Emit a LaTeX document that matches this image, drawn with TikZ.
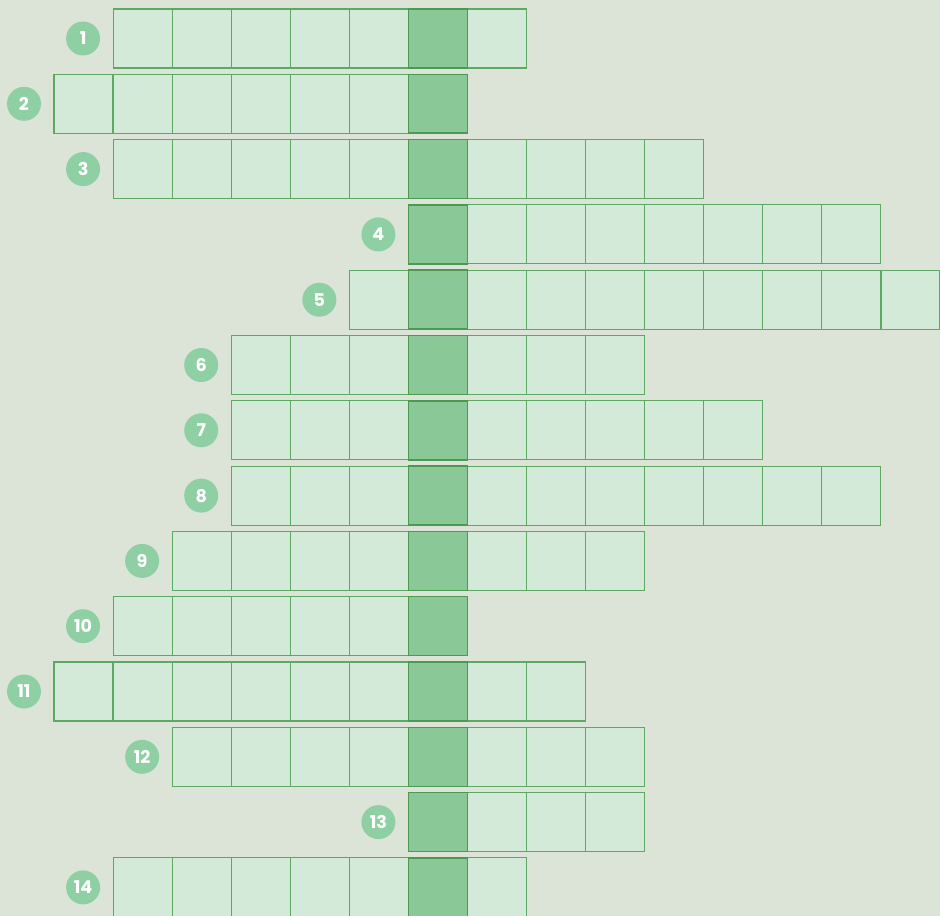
\documentclass[tikz,border=0pt]{standalone}
\usepackage{fontspec}
\setsansfont{Poppins}
\usepackage{tikz}
\definecolor{bgGray}{HTML}{DCE4D8}
\definecolor{cellFill}{HTML}{D4EAD8}
\definecolor{cellLine}{HTML}{5DA862}
\definecolor{hlFill}{HTML}{8AC897}
\definecolor{hlLine}{HTML}{4C9A52}
\definecolor{numFill}{HTML}{8ED0A4}

\begin{document}
\begin{tikzpicture}[
    x=0.02cm, y=-0.02cm,
    cell/.style={rectangle, anchor=north west, minimum width=1.18cm,
                 minimum height=1.18cm, inner sep=0pt, outer sep=0pt,
                 fill=cellFill, draw=cellLine, line width=0.6pt},
    hl/.style={cell, fill=hlFill, draw=hlLine, line width=0.9pt},
    num/.style={circle, fill=numFill, minimum size=0.68cm, inner sep=0pt,
                text=white, font=\sffamily\bfseries\fontsize{10}{12}\selectfont}
  ]
  \useasboundingbox[fill=bgGray] (0,0) rectangle (940,916);
  % row / first column / last column
  \foreach \r/\s/\e in {1/1/7, 2/0/6, 3/1/10, 4/6/13, 5/5/14, 6/3/9, 7/3/11,
                        8/3/13, 9/2/9, 10/1/6, 11/0/8, 12/2/9, 13/6/9, 14/1/7} {
    \pgfmathsetmacro\ty{9+65.3*(\r-1)}
    \foreach \c in {\s,...,\e}
      \node[cell] (c\r-\c) at ({54+59.07*\c}, \ty) {};
    \node[hl] (h\r) at ({54+59.07*6}, \ty) {};
    \node[num] (n\r) at ({54+59.07*\s-30}, {\ty+29.5}) {\r};
  }
\end{tikzpicture}
\end{document}
